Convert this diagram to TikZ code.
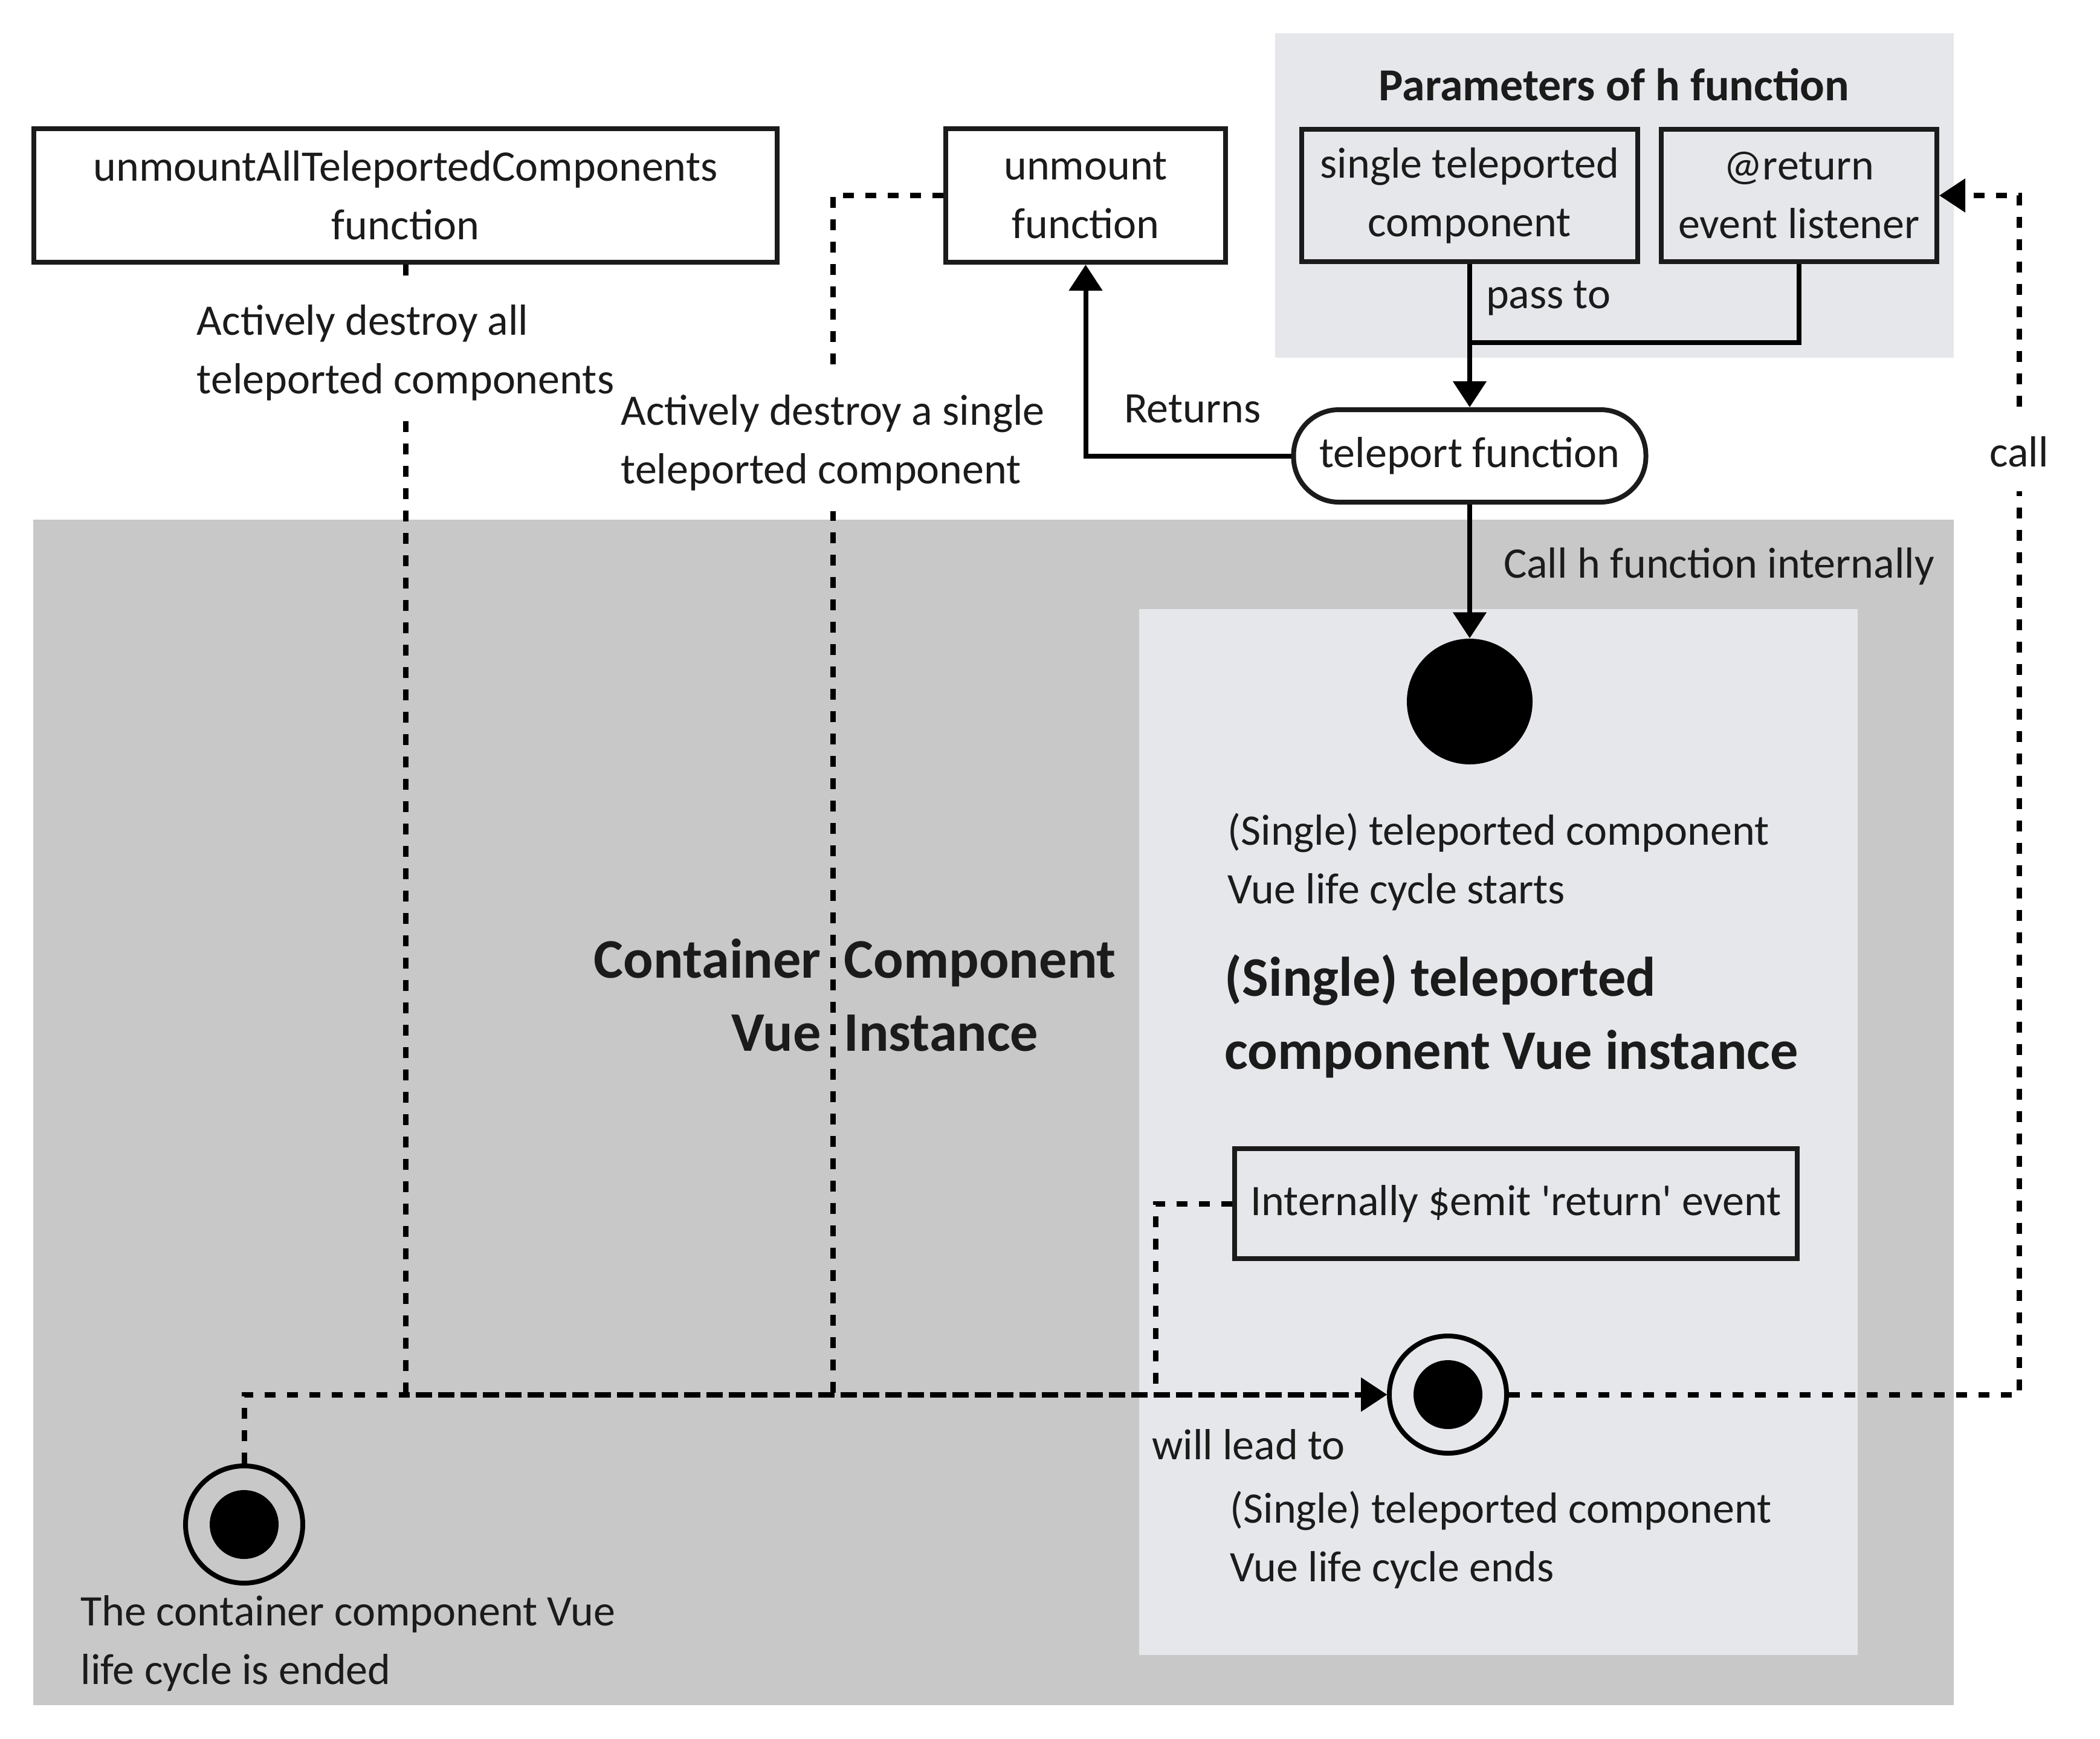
\documentclass[tikz,border=0pt]{standalone}
\usepackage{fontspec}
\setmainfont{Carlito}
\usetikzlibrary{arrows.meta, positioning, shapes.geometric}
\definecolor{outerbg}{RGB}{200,200,200}
\definecolor{innerbg}{RGB}{230,231,235}
\definecolor{ink}{RGB}{27,27,27}

\begin{document}
\begin{tikzpicture}[font=\fontsize{20.5}{27.6}\selectfont, text=ink,
    box/.style={rectangle, draw=ink, line width=0.08cm, align=center, inner sep=0},
    solidline/.style={line width=0.08cm},
    conn/.style={line width=0.08cm, -{Triangle[length=0.43cm, width=0.54cm]}},
    dashconn/.style={conn, line width=0.09cm, dash pattern=on 0.18cm off 0.19cm},
    endstate/.style={circle, draw=black, line width=0.08cm, minimum size=1.94cm, inner sep=0,
        path picture={\fill[black] (path picture bounding box.center) circle (0.57);}},
    gaplabel/.style={fill=white, align=left, inner xsep=0.1cm, inner ysep=0.34cm},
    big/.style={font=\fontsize{26.3}{34.4}\selectfont\bfseries, align=left, inner sep=0}]

    \useasboundingbox (0,0) rectangle (34.75,-28.77);

    % Backgrounds
    \fill[outerbg] (0.55,-8.60) rectangle (32.33,-28.22);
    \fill[innerbg] (21.10,-0.55) rectangle (32.33,-5.92);
    \fill[innerbg] (18.85,-10.08) rectangle (30.74,-27.39);

    % Parameters of h
    \node[font=\fontsize{21.6}{27.6}\selectfont\bfseries] (ptitle) at (26.71,-1.40) {Parameters of h function};
    \node[box, fill=innerbg, minimum width=5.56cm, minimum height=2.19cm] (single) at (24.32,-3.235) {single teleported\\component};
    \node[box, fill=innerbg, minimum width=4.56cm, minimum height=2.19cm] (ret) at (29.77,-3.235) {@return\\event listener};
    \coordinate (merge) at (24.32,-5.67);

    % Functions
    \node[box, fill=white, minimum width=12.30cm, minimum height=2.21cm] (unmountall) at (6.71,-3.235) {unmountAllTeleportedComponents\\function};
    \node[box, fill=white, minimum width=4.63cm, minimum height=2.21cm] (unmount) at (17.965,-3.235) {unmount\\function};
    \node[box, fill=white, rounded corners=0.75cm, minimum width=5.83cm, minimum height=1.53cm] (teleport) at (24.32,-7.545) {teleport function};

    % Teleported instance
    \node[circle, fill=black, minimum size=2.08cm, inner sep=0] (start) at (24.32,-11.61) {};
    \node[anchor=west, align=left, inner sep=0] (startlbl) at (20.31,-14.26) {(Single) teleported component\\Vue life cycle starts};
    \node[big, anchor=west] (instlbl) at (20.26,-16.82) {(Single) teleported\\component Vue instance};
    \node[box, fill=innerbg, minimum width=9.31cm, minimum height=1.82cm] (emit) at (25.085,-19.92) {Internally \$emit \textquotesingle return\textquotesingle{} event};
    \node[endstate] (childend) at (23.96,-23.08) {};
    \node[anchor=west, align=left, inner sep=0] (endlbl) at (20.35,-25.48) {(Single) teleported component\\Vue life cycle ends};

    % Container instance
    \node[big, anchor=west] (hostlbl) at (9.08,-16.47) {\makebox[4.5cm][r]{Container}\hspace{0.38cm}\makebox[4.6cm][l]{Component}\\\makebox[4.5cm][r]{Vue}\hspace{0.38cm}\makebox[4.6cm][l]{Instance}};
    \node[endstate] (hostend) at (4.04,-25.23) {};
    \node[anchor=west, align=left, inner sep=0] (hostendlbl) at (1.33,-27.2) {The container component Vue\\life cycle is ended};

    % Arrows
    \draw[conn] (single) -- node[right=0.23cm, pos=0.24, inner sep=0] {pass to} (teleport);
    \draw[solidline] (ret.south) |- (merge);
    \draw[conn] (teleport.west) -| node[above=0.5cm, pos=0.24, inner sep=0] {Returns} (unmount.south);
    \draw[conn] (teleport) -- node[right=0.52cm, pos=0.46, inner sep=0] {Call h function internally} (start);
    \draw[dashconn] (unmountall.south) |- node[gaplabel, pos=0.039] {Actively destroy all\\teleported components} (childend.west);
    \draw[dashconn] (unmount.west) -- ++(-1.83,0) |- node[gaplabel, pos=0.103] {Actively destroy a single\\teleported component} (childend.west);
    \draw[dashconn] (emit.west) -- ++(-1.27,0) |- (childend.west);
    \draw[dashconn] (hostend.north) |- node[pos=0.896, anchor=north west, yshift=-0.53cm, inner sep=0] {will lead to} (childend.west);
    \draw[dashconn] (childend.east) -- ++(8.44,0) |- node[gaplabel, inner ysep=0.4cm, pos=0.393] {call} (ret.east);
\end{tikzpicture}
\end{document}
